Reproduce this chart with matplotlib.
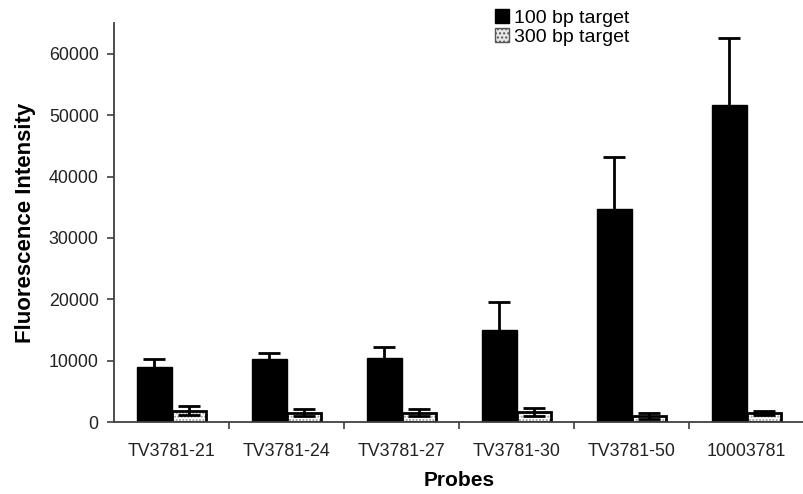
import matplotlib.pyplot as plt
import numpy as np
from matplotlib.patches import Patch

plt.rcParams['font.family'] = ['Liberation Sans', 'DejaVu Sans']

probes = ["TV3781-21", "TV3781-24", "TV3781-27", "TV3781-30", "TV3781-50", "10003781"]
target_100 = [9000, 10200, 10500, 15000, 34800, 51600]
err_100 = [1200, 1100, 1700, 4500, 8400, 11000]
target_300 = [1850, 1500, 1500, 1650, 1000, 1500]
err_300 = [700, 550, 550, 650, 500, 300]

x = np.arange(len(probes))
w = 0.3

fig = plt.figure(figsize=(8.04, 4.94), dpi=100)
ax = fig.add_axes([0.1418, 0.1457, 0.8582, 0.8073])

ax.bar(x - w / 2, target_100, w, color="black", edgecolor="black", linewidth=1)
ax.errorbar(x - w / 2, target_100, yerr=err_100, fmt="none", ecolor="black",
            elinewidth=2, capsize=8, capthick=2)

# stippled fill first, black outline on top
ax.bar(x + w / 2, target_300, w, color="white", edgecolor="#9a9a9a", hatch=".....", linewidth=0)
ax.bar(x + w / 2, target_300, w, color="none", edgecolor="black", linewidth=2)
ax.errorbar(x + w / 2, target_300, yerr=err_300, fmt="none", ecolor="black",
            elinewidth=2, capsize=8, capthick=2)

ax.set_xlim(-0.5, 5.5)
ax.set_ylim(0, 65000)
ax.set_yticks(range(0, 60001, 10000))
ax.set_xticks(x)
ax.set_xticklabels(probes)
ax.set_xticks(np.arange(0.5, 5, 1), minor=True)
ax.tick_params(axis="x", which="major", length=0, pad=15, labelsize=12.8, labelcolor="#222222")
ax.tick_params(axis="x", which="minor", length=5, width=1.2, color="#404040", direction="out")
ax.tick_params(axis="y", length=5, width=1.2, color="#404040", pad=6, labelsize=12.8,
               labelcolor="#222222")

for side in ["top", "right"]:
    ax.spines[side].set_visible(False)
for side in ["left", "bottom"]:
    ax.spines[side].set_color("#404040")
    ax.spines[side].set_linewidth(1.3)

ax.set_xlabel("Probes", fontsize=15, fontweight="bold", labelpad=8)
ax.set_ylabel("Fluorescence Intensity", fontsize=16, fontweight="bold", labelpad=9)

handles = [Patch(facecolor="black", edgecolor="black"),
           Patch(facecolor="#e6e6e6", edgecolor="#555555", hatch="....")]
fig.legend(handles, ["100 bp target", "300 bp target"], loc="upper left",
           bbox_to_anchor=(495 / 804, 0.981), frameon=False, fontsize=14,
           handlelength=0.7, handleheight=0.7, handletextpad=0.3,
           labelspacing=0.05, borderpad=0, borderaxespad=0)

fig.savefig("out.png", dpi=100)
